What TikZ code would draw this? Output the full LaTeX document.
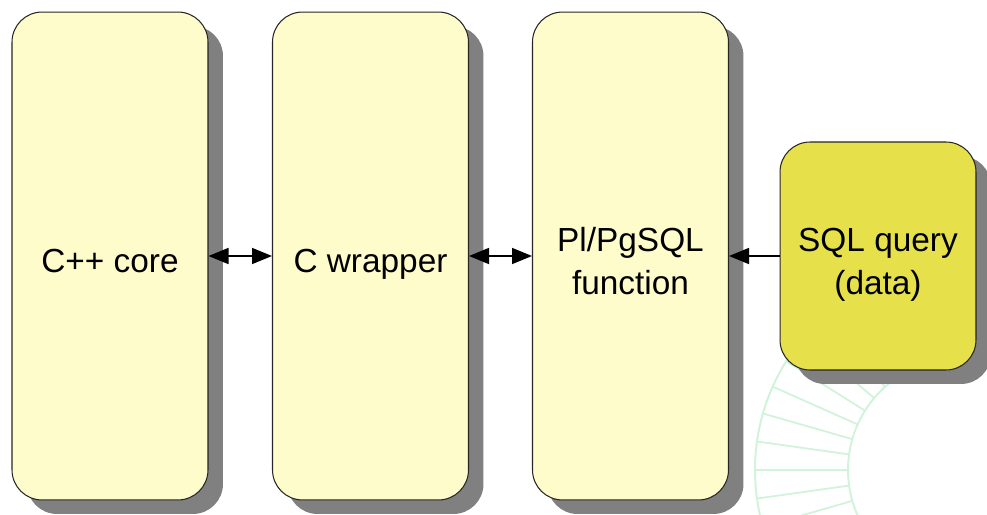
\documentclass[tikz,border=0pt]{standalone}
\usepackage{fontspec}
\setmainfont{Liberation Sans}
\usetikzlibrary{shadows,arrows.meta,calc}
\definecolor{paleyellow}{RGB}{255,252,204}
\definecolor{queryyellow}{RGB}{230,224,74}
\definecolor{shadowgray}{RGB}{128,128,128}
\definecolor{markgreen}{RGB}{208,243,218}
\newcommand{\boxtext}[1]{\raisebox{-0.17cm}[\height][\depth]{\begin{tabular}{@{}c@{}}#1\end{tabular}}}
\tikzset{
  layer/.style={draw=black!85,line width=0.6pt,fill=paleyellow,rounded corners=0.6cm,
    minimum width=3.92cm,minimum height=9.76cm,
    font=\fontsize{19}{24}\selectfont,
    drop shadow={shadow xshift=0.3cm,shadow yshift=-0.28cm,fill=shadowgray,opacity=1}},
  link/.style={line width=0.9pt,{Triangle[length=0.4cm,width=0.32cm]}-{Triangle[length=0.4cm,width=0.32cm]}},
  feed/.style={line width=0.9pt,-{Triangle[length=0.4cm,width=0.32cm]}}
}
\begin{document}
\begin{tikzpicture}[x=0.02cm,y=-0.02cm]
\useasboundingbox (0,0) rectangle (987,514);
% watermark
\begin{scope}
\clip (0,0) rectangle (987,514);
\draw[markgreen,line width=1.1pt] (960,470) circle (112);
\draw[markgreen,line width=1.1pt] (960,470) circle (205);
\foreach \a in {100,108,...,260}
  \draw[markgreen,line width=1pt] ($(960,470)+(\a:112)$) -- ($(960,470)+(\a:205)$);
\end{scope}
% layers
\node[layer] (core) at (110,256) {\boxtext{C++ core}};
\node[layer] (wrapper) at (370.5,256) {\boxtext{C wrapper}};
\node[layer] (plpgsql) at (630.5,256) {\boxtext{Pl/PgSQL\\function}};
\node[layer,fill=queryyellow,minimum height=4.56cm] (query) at (878,256) {\boxtext{SQL query\\(data)}};
% connectors
\draw[link] (core.east) -- (wrapper.west);
\draw[link] (wrapper.east) -- (plpgsql.west);
\draw[feed] (query.west) -- (plpgsql.east);
\end{tikzpicture}
\end{document}
